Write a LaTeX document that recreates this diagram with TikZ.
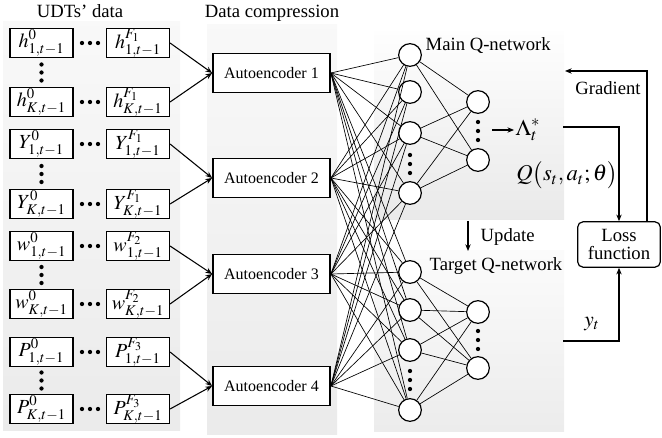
\documentclass[tikz,border=0pt]{standalone}
\usepackage{mathptmx}
\usepackage[no-math]{fontspec}
\setmainfont{Liberation Serif}
\usepackage{tikz}
\usetikzlibrary{arrows.meta,calc}

\begin{document}
\begin{tikzpicture}[x=0.75pt, y=-0.75pt,
	label/.style={font=\fontsize{14}{16}\selectfont},
	databox/.style={draw, line width=1.1pt, fill=white, minimum width=47pt, minimum height=22pt, inner sep=0pt, font=\fontsize{15}{17}\selectfont},
	aebox/.style={draw, line width=1.1pt, fill=white, minimum width=88pt, minimum height=29pt, font=\fontsize{12}{14}\selectfont},
	neuron/.style={circle, draw, line width=0.9pt, fill=white, minimum size=17pt, inner sep=0pt},
	link/.style={line width=0.5pt},
	arr/.style={line width=0.8pt, -{Stealth[length=5pt,width=4pt]}}]
		\useasboundingbox (0,0) rectangle (662,438);
		%panels
		\shade[top color=gray!5, bottom color=gray!16] (3,22) rectangle (180,431);
		\shade[top color=gray!5, bottom color=gray!16] (207,25) rectangle (337,435);
		\shade[top color=gray!1, bottom color=gray!17] (374,32) rectangle (564,220);
		\shade[top color=gray!3, bottom color=gray!15] (374,251) rectangle (564,432);
		%titles
		\node[label] (tdata) at (80,11) {UDTs’ data};
		\node[label] (tcomp) at (272,13) {Data compression};
		\node[label, anchor=west] (tmain) at (421,46) {Main Q-network};
		\node[label, anchor=west] (ttarget) at (425,266) {Target Q-network};
		%data boxes
		\foreach \v/\f/\ya/\yb [count=\g] in {h/F_1/43/102, Y/F_1/144/204, w/F_2/246/304, P/F_3/352/409}
		{
			\node[databox] (l\g a) at (41.5,\ya) {$\v^{0}_{1,t-1}$};
			\node[databox] (r\g a) at (138,\ya) {$\v^{\f}_{1,t-1}$};
			\node[databox] (l\g b) at (41.5,\yb) {$\v^{0}_{K,t-1}$};
			\node[databox] (r\g b) at (138,\yb) {$\v^{\f}_{K,t-1}$};
			\foreach \dx in {-8,0,8}
			{
				\fill (90+\dx,\ya) circle (1.6pt);
				\fill (90+\dx,\yb) circle (1.6pt);
				\fill ($(l\g a.south)!0.5!(l\g b.north)+(0,\dx)$) circle (1.6pt);
			}
		}
		%autoencoders
		\foreach \y [count=\i] in {73,178,274,386}
		{
			\node[aebox] (ae\i) at (271.5,\y) {Autoencoder \i};
			\draw[arr] (r\i a.east) -- (ae\i.west);
			\draw[arr] (r\i b.east) -- (ae\i.west);
		}
		%q-networks
		\foreach \y [count=\j] in {55,92,133,193}
		\node[neuron] (m\j) at (410,\y) {};
		\foreach \y [count=\j] in {272,310,350,410}
		\node[neuron] (t\j) at (410,\y) {};
		\foreach \y [count=\k] in {102,160}
		\node[neuron] (mo\k) at (478,\y) {};
		\foreach \y [count=\k] in {312,368}
		\node[neuron] (to\k) at (478,\y) {};
		\foreach \i in {1,...,4}
		\foreach \j in {1,...,4}
		{
			\draw[link] (ae\i.east) -- (m\j);
			\draw[link] (ae\i.east) -- (t\j);
		}
		\foreach \j in {1,3,4}
		\foreach \k in {1,2}
		\draw[link] (m\j) -- (mo\k);
		\foreach \j in {1,...,4}
		\foreach \k in {1,2}
		\draw[link] (t\j) -- (to\k);
		\foreach \dy in {-9,0,9}
		{
			\fill (410,164+\dy) circle (1.6pt);
			\fill (478,131+\dy) circle (1.6pt);
			\fill (410,380+\dy) circle (1.6pt);
			\fill (478,340+\dy) circle (1.6pt);
		}
		%outputs and loss
		\node[label, align=center, draw, line width=0.9pt, rounded corners=4pt, minimum width=62pt, minimum height=34pt, inner sep=1pt] (loss) at (619,244.5) {Loss\\[-3pt]function};
		\node[font=\fontsize{17}{19}\selectfont, inner sep=1pt] (lam) at (528,130) {$\Lambda_t^*$};
		\coordinate (lamin) at (492,130);
		\draw[arr] (lamin) -- (lam);
		\node[font=\fontsize{17}{19}\selectfont, inner sep=1pt] (qval) at (567,175) {$Q\bigl(s_t,a_t;\theta\bigr)$};
		\coordinate (qout) at (563,127);
		\draw[arr] (qout) -| (loss.north);
		\coordinate (gtop) at (647,71);
		\coordinate (gin) at (565,71);
		\draw[arr] (loss.north -| gtop) -- (gtop) -- (gin);
		\node[label] (grad) at (608,88) {Gradient};
		\coordinate (yout) at (563,341);
		\draw[arr] (yout) -| (loss.south);
		\node[font=\fontsize{16}{18}\selectfont] (ylab) at (592,324) {$y_t$};
		\coordinate (upa) at (468,221);
		\coordinate (upb) at (468,251);
		\draw[arr] (upa) -- (upb);
		\node[label, anchor=west] (upd) at (476,237) {Update};
\end{tikzpicture}
\end{document}
